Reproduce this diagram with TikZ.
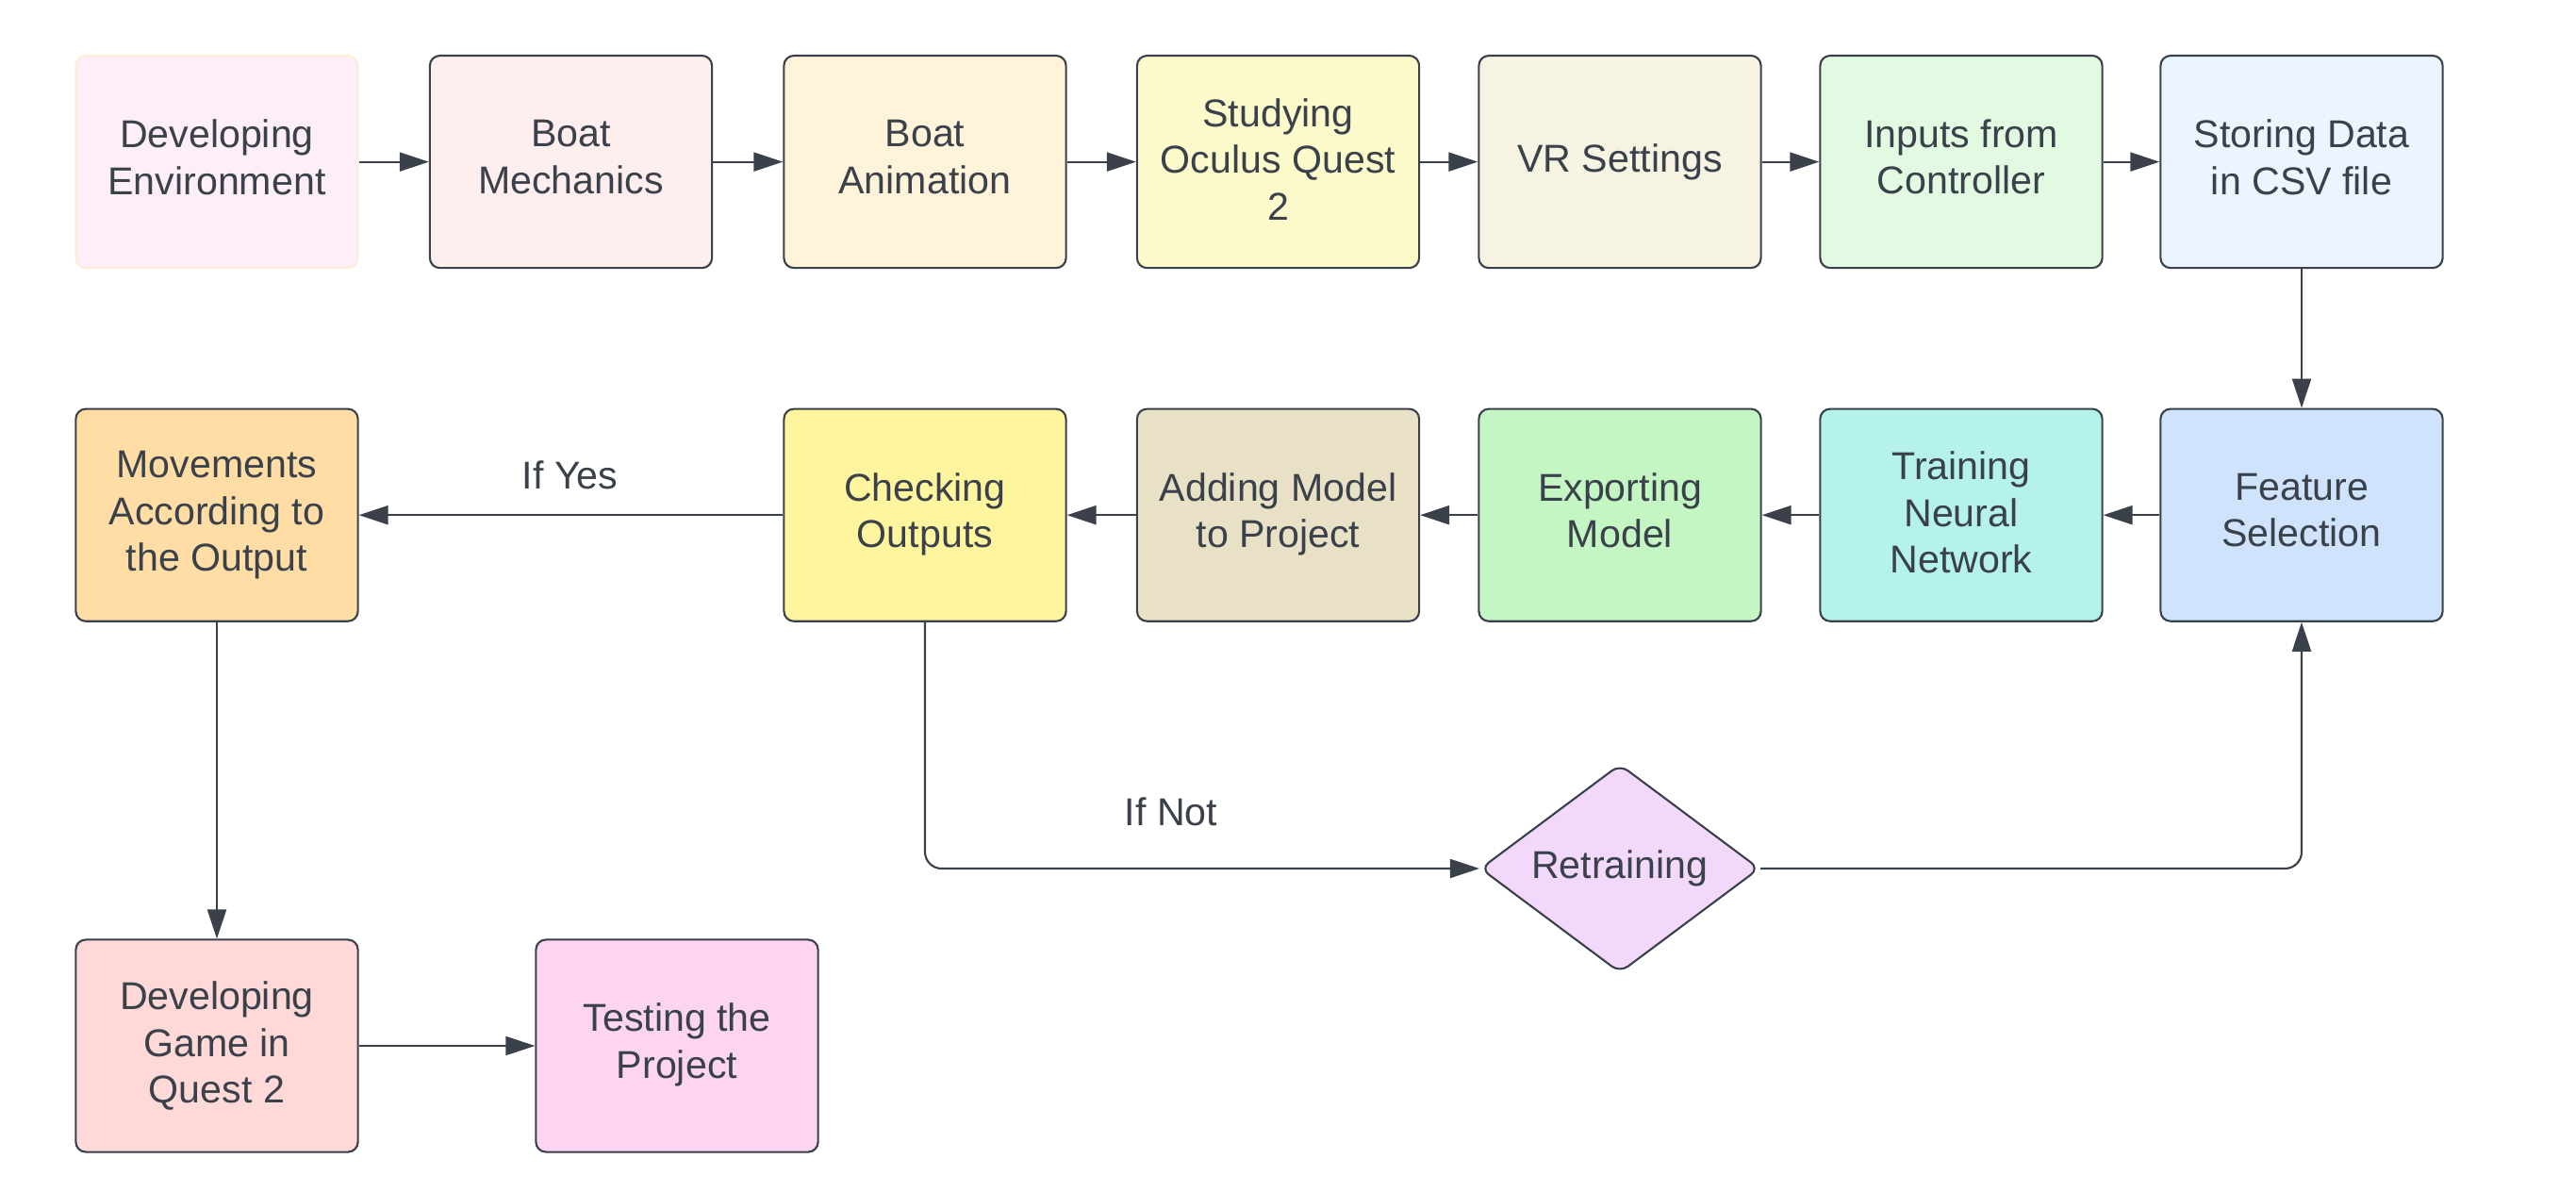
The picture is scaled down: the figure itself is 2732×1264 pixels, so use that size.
\documentclass[tikz,border=0pt]{standalone}
\usepackage{fontspec}
\setmainfont{Liberation Sans}
\usetikzlibrary{shapes.geometric,arrows.meta}
\definecolor{ink}{HTML}{3A414A}
\definecolor{cA}{HTML}{FEEEF8}
\definecolor{cAb}{HTML}{FDEED8}
\definecolor{cB}{HTML}{FEEFEE}
\definecolor{cC}{HTML}{FFF3D9}
\definecolor{cD}{HTML}{FCFACA}
\definecolor{cE}{HTML}{F6F3E3}
\definecolor{cF}{HTML}{E2FAE2}
\definecolor{cG}{HTML}{EBF4FF}
\definecolor{cH}{HTML}{FFDDA5}
\definecolor{cI}{HTML}{FFF59F}
\definecolor{cJ}{HTML}{E8E1C6}
\definecolor{cK}{HTML}{C4F6C4}
\definecolor{cL}{HTML}{B5F3EA}
\definecolor{cM}{HTML}{CFE3FC}
\definecolor{cN}{HTML}{F2D9FC}
\definecolor{cO}{HTML}{FFD8D8}
\definecolor{cP}{HTML}{FDD5F3}
\tikzset{
  stepbox/.style={draw=ink, line width=0.6pt, rounded corners=3pt, minimum width=2.99cm, minimum height=2.25cm, inner sep=0pt, align=center, text=ink, font=\fontsize{11.7pt}{14.1pt}\selectfont},
  liftwo/.style={execute at end node={\rule[-3pt]{0pt}{0pt}}},
  lifthree/.style={execute at end node={\rule[-1.6pt]{0pt}{0pt}}},
  decbox/.style={diamond, draw=ink, line width=0.6pt, rounded corners=3pt, minimum width=2.96cm, minimum height=2.21cm, inner sep=0pt, aspect=1.33, align=center, text=ink, font=\fontsize{11.7pt}{14.1pt}\selectfont},
  arr/.style={draw=ink, line width=0.6pt, -{Triangle[length=3.1mm, width=2mm]}},
  lbl/.style={text=ink, font=\fontsize{11.7pt}{14.1pt}\selectfont, inner sep=0pt}
}
\begin{document}
\begin{tikzpicture}[x=0.01cm, y=-0.01cm]
\useasboundingbox (0,0) rectangle (2732,1264);
% row 1
\node[stepbox, liftwo, fill=cA, draw=cAb] (a) at (230,171.6) {Developing\\Environment};
\node[stepbox, liftwo, fill=cB] (b) at (605.5,171.6) {Boat\\Mechanics};
\node[stepbox, liftwo, fill=cC] (c) at (981,171.6) {Boat\\Animation};
\node[stepbox, lifthree, fill=cD] (d) at (1355.5,171.6) {Studying\\Oculus Quest\\2};
\node[stepbox, fill=cE] (e) at (1718,171.6) {VR Settings};
\node[stepbox, liftwo, fill=cF] (f) at (2080,171.6) {Inputs from\\Controller};
\node[stepbox, liftwo, fill=cG] (g) at (2441,171.6) {Storing Data\\in CSV file};
% row 2
\node[stepbox, lifthree, fill=cH] (mov) at (230,546.2) {Movements\\According to\\the Output};
\node[stepbox, liftwo, fill=cI] (chk) at (981,546.2) {Checking\\Outputs};
\node[stepbox, liftwo, fill=cJ] (add) at (1355.5,546.2) {Adding Model\\to Project};
\node[stepbox, liftwo, fill=cK] (exp) at (1718,546.2) {Exporting\\Model};
\node[stepbox, lifthree, fill=cL] (trn) at (2080,546.2) {Training\\Neural\\Network};
\node[stepbox, liftwo, fill=cM] (fs) at (2441,546.2) {Feature\\Selection};
% decision
\node[decbox, fill=cN] (ret) at (1718,921) {Retraining};
% row 3
\node[stepbox, lifthree, fill=cO] (dev) at (230,1109) {Developing\\Game in\\Quest 2};
\node[stepbox, liftwo, fill=cP] (tst) at (718,1109) {Testing the\\Project};
% connectors
\draw[arr] (a) -- (b);
\draw[arr] (b) -- (c);
\draw[arr] (c) -- (d);
\draw[arr] (d) -- (e);
\draw[arr] (e) -- (f);
\draw[arr] (f) -- (g);
\draw[arr] (g) -- (fs);
\draw[arr] (fs) -- (trn);
\draw[arr] (trn) -- (exp);
\draw[arr] (exp) -- (add);
\draw[arr] (add) -- (chk);
\draw[arr] (chk) -- (mov);
\draw[arr] (mov) -- (dev);
\draw[arr] (dev) -- (tst);
\draw[arr, rounded corners=5pt] (chk.south) |- (ret.west);
\draw[arr, rounded corners=5pt] (ret.east) -| (fs.south);
% labels
\node[lbl] (ly) at (604.6,503.5) {If Yes};
\node[lbl] (ln) at (1242,860.7) {If Not};
\end{tikzpicture}
\end{document}
